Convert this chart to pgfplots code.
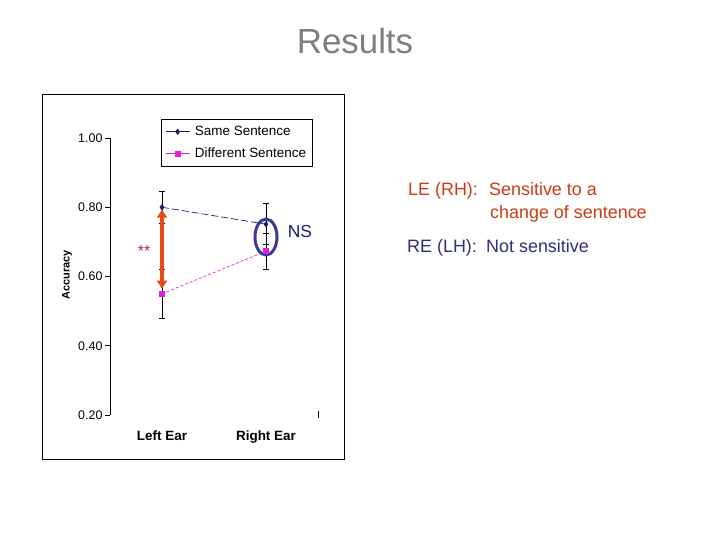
\documentclass[border=0pt]{standalone}
\usepackage{fontspec}
\setmainfont{Liberation Sans}
\usepackage{pgfplots}
\pgfplotsset{compat=1.18}
\usetikzlibrary{arrows.meta}
\definecolor{navyc}{HTML}{1C1C66}
\definecolor{magc}{HTML}{E020E0}
\definecolor{arrowc}{HTML}{E84A1A}
\definecolor{starc}{HTML}{C0282A}
\definecolor{letxt}{HTML}{CC3A14}
\definecolor{retxt}{HTML}{2E2E80}
\definecolor{ellc}{HTML}{3A3A8E}
\definecolor{titlec}{HTML}{7F7F7F}
\pgfplotstableread{
x y e
1 0.800 0.046
2 0.751 0.059
}\samedata
\pgfplotstableread{
x y e
1 0.550 0.070
2 0.673 0.053
}\diffdata
\begin{document}
\begin{tikzpicture}
\useasboundingbox (0bp,0bp) rectangle (720bp,540bp);
\node[anchor=base, text=titlec, font=\fontsize{35}{35}\selectfont] at (355bp,486bp) {Results};
\draw[black, line width=0.8bp] (42bp,81bp) rectangle (344bp,446bp);
\begin{axis}[
  at={(110bp,125bp)}, anchor=south west,
  scale only axis, width=208bp, height=277bp,
  xmin=0.5, xmax=2.5, ymin=0.2, ymax=1.0,
  axis lines=left, axis line style={-, black, line width=0.6bp},
  x axis line style={draw=none},
  xtick={1,2}, xticklabels={Left Ear, Right Ear},
  xtick style={draw=none},
  ytick={0.2,0.4,0.6,0.8,1.0},
  yticklabels={0.20,0.40,0.60,0.80,1.00},
  tick align=outside, major tick length=5bp,
  ytick style={black, line width=0.6bp},
  /pgf/number format/assume math mode=true,
  xticklabel style={font=\fontsize{13.5}{13.5}\selectfont\bfseries, yshift=-7bp},
  yticklabel style={font=\fontsize{12.5}{12.5}\selectfont, xshift=1bp},
  ylabel={Accuracy},
  ylabel style={at={(axis description cs:-0.207,0.505)}, anchor=center, font=\fontsize{11}{11}\selectfont\bfseries},
  legend style={at={(axis description cs:0.245,1.0686)}, anchor=north west,
    draw=black, fill=white, line width=0.6bp, font=\fontsize{13.5}{13.5}\selectfont,
    row sep=7bp, inner xsep=4bp, inner ysep=5bp},
  legend cell align=left,
  legend image code/.code={%
    \draw[mark repeat=2, mark phase=2, #1, solid] plot coordinates {(0bp,0bp) (12bp,0bp) (24bp,0bp)};
    \path (27bp,0bp);},
  clip=false,
]
\addplot[navyc, line width=0.7bp, dash pattern=on 7bp off 3bp, mark=diamond*, mark size=2.6bp, mark options={solid},
  error bars/.cd, y dir=both, y explicit,
  error bar style={black, solid, line width=0.6bp},
  error mark options={rotate=90, black, mark size=3bp, line width=0.6bp}]
  table[x=x, y=y, y error=e] {\samedata};
\addlegendentry{Same Sentence}
\addplot[magc, line width=0.7bp, dash pattern=on 3bp off 2bp, mark=square*, mark size=2.6bp, mark options={solid},
  error bars/.cd, y dir=both, y explicit,
  error bar style={black, solid, line width=0.6bp},
  error mark options={rotate=90, black, mark size=3bp, line width=0.6bp}]
  table[x=x, y=y, y error=e] {\diffdata};
\addlegendentry{Different Sentence}
\draw[black, line width=0.6bp] ([yshift=-3bp]axis cs:2.5,0.2) -- ([yshift=4bp]axis cs:2.5,0.2);
\draw[arrowc, line width=3.5bp, {Triangle[length=8bp,width=10bp]}-{Triangle[length=8bp,width=10bp]}]
  (axis cs:1,0.565) -- (axis cs:1,0.793);
\node[text=starc, font=\fontsize{16}{16}\selectfont] at (axis cs:0.827,0.674) {**};
\draw[ellc, line width=3bp] (axis cs:2,0.714) ellipse [x radius=11bp, y radius=18bp];
\node[text=navyc, font=\fontsize{17.5}{17.5}\selectfont] at (axis cs:2.327,0.731) {NS};
\end{axis}
\node[anchor=base west, inner sep=0pt, text=letxt, font=\fontsize{18}{18}\selectfont] at (408bp,344bp) {LE (RH):};
\node[anchor=base west, inner sep=0pt, text=letxt, font=\fontsize{18}{18}\selectfont] at (489bp,344bp) {Sensitive to a};
\node[anchor=base west, inner sep=0pt, text=letxt, font=\fontsize{18}{18}\selectfont] at (490bp,321bp) {change of sentence};
\node[anchor=base west, inner sep=0pt, text=retxt, font=\fontsize{18}{18}\selectfont] at (407bp,287bp) {RE (LH):};
\node[anchor=base west, inner sep=0pt, text=retxt, font=\fontsize{18}{18}\selectfont] at (486bp,287bp) {Not sensitive};
\end{tikzpicture}
\end{document}
